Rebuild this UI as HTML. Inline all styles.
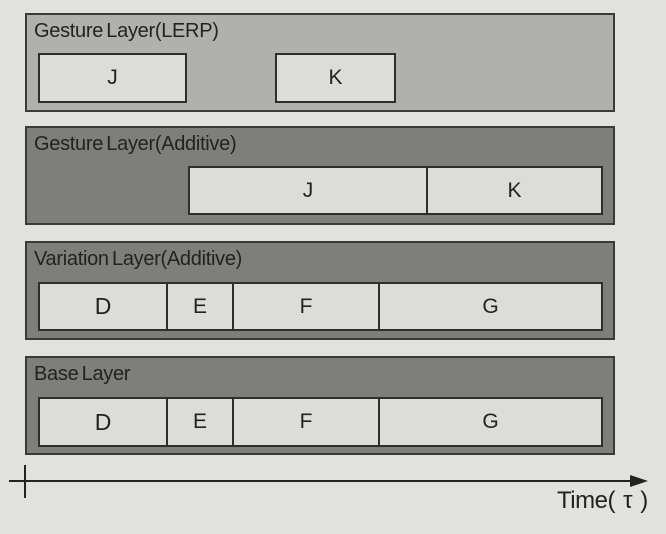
<!DOCTYPE html>
<html><head><style>
body{margin:0;width:666px;height:534px;background:#e1e2de;position:relative;overflow:hidden;font-family:"Liberation Sans",sans-serif}
.l{position:absolute;left:25px;width:586px;height:95px;border:2px solid #3a3b38}
.t{position:absolute;left:7px;top:5px;font-size:20px;color:#222;letter-spacing:-0.3px;word-spacing:-2px}
.b{position:absolute;height:46px;background:#dcddd8;border:2px solid #2e2f2c;box-sizing:border-box;display:flex;align-items:center;justify-content:center;font-size:21px;color:#222}
</style></head><body>
<div class="l" style="top:13px;background:#b0b1ac"><div class="t">Gesture Layer(LERP)</div></div>
<div class="l" style="top:126px;background:#7e7f7a"><div class="t">Gesture Layer(Additive)</div></div>
<div class="l" style="top:241px;background:#7e7f7a"><div class="t">Variation Layer(Additive)</div></div>
<div class="l" style="top:356px;background:#7e7f7a"><div class="t">Base Layer</div></div>

<div class="b" style="left:38px;top:53px;width:149px;height:50px">J</div>
<div class="b" style="left:275px;top:53px;width:121px;height:50px">K</div>

<div class="b" style="left:188px;top:166px;width:240px;height:49px">J</div>
<div class="b" style="left:426px;top:166px;width:177px;height:49px">K</div>

<div class="b" style="left:38px;top:282px;width:130px;height:49px;font-size:23px">D</div>
<div class="b" style="left:166px;top:282px;width:68px;height:49px">E</div>
<div class="b" style="left:232px;top:282px;width:148px;height:49px">F</div>
<div class="b" style="left:378px;top:282px;width:225px;height:49px">G</div>

<div class="b" style="left:38px;top:397px;width:130px;height:50px;font-size:23px">D</div>
<div class="b" style="left:166px;top:397px;width:68px;height:50px">E</div>
<div class="b" style="left:232px;top:397px;width:148px;height:50px">F</div>
<div class="b" style="left:378px;top:397px;width:225px;height:50px">G</div>

<svg style="position:absolute;left:0;top:0" width="666" height="534">
<line x1="9" y1="481" x2="632" y2="481" stroke="#222" stroke-width="2"/>
<polygon points="630,475 648,481 630,487" fill="#222"/>
<line x1="25" y1="465" x2="25" y2="498" stroke="#222" stroke-width="2"/>
</svg>
<div style="position:absolute;left:557px;top:487px;font-size:24px;color:#222;letter-spacing:-0.5px;word-spacing:2px">Time( τ )</div>
</body></html>
